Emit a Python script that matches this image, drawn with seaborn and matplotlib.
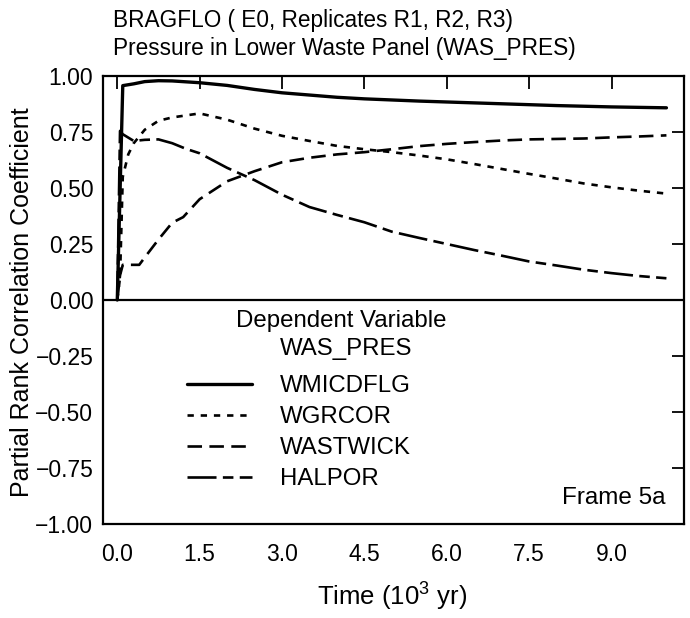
import numpy as np
import pandas as pd
import matplotlib
matplotlib.use("Agg")
import matplotlib.pyplot as plt
import seaborn as sns
from matplotlib.lines import Line2D

# ---- data ----
t_wmic = [0.0, 0.1, 0.3, 0.5, 0.75, 1.0, 1.5, 2.0, 2.5, 3.0, 3.5, 4.0, 4.5, 5.0,
          5.5, 6.0, 6.5, 7.0, 7.5, 8.0, 8.5, 9.0, 9.5, 10.0]
wmicdflg = [0.0, 0.957, 0.965, 0.975, 0.979, 0.978, 0.970, 0.958, 0.940, 0.925,
            0.915, 0.905, 0.898, 0.893, 0.888, 0.884, 0.880, 0.876, 0.872, 0.868,
            0.865, 0.862, 0.860, 0.858]

t_wgr = [0.0, 0.05, 0.1, 0.2, 0.3, 0.5, 0.75, 1.0, 1.5, 2.0, 2.5, 3.0, 3.5, 4.0,
         4.5, 5.0, 5.5, 6.0, 6.5, 7.0, 7.5, 8.0, 8.5, 9.0, 9.5, 10.0]
wgrcor = [0.0, 0.10, 0.55, 0.65, 0.70, 0.76, 0.80, 0.815, 0.833, 0.805, 0.765,
          0.733, 0.71, 0.688, 0.673, 0.66, 0.645, 0.628, 0.607, 0.585, 0.563,
          0.542, 0.52, 0.503, 0.488, 0.475]

t_wast = [0.0, 0.05, 0.1, 0.4, 0.5, 0.75, 1.0, 1.2, 1.5, 2.0, 2.5, 3.0, 3.5, 4.0,
          4.5, 5.0, 5.5, 6.0, 6.5, 7.0, 7.5, 8.0, 8.5, 9.0, 9.5, 10.0]
wastwick = [0.0, 0.11, 0.157, 0.157, 0.19, 0.27, 0.345, 0.37, 0.45, 0.53, 0.575,
            0.615, 0.635, 0.65, 0.66, 0.673, 0.687, 0.697, 0.705, 0.712, 0.717,
            0.719, 0.721, 0.726, 0.730, 0.735]

t_hal = [0.0, 0.05, 0.1, 0.3, 0.5, 0.75, 1.0, 1.25, 1.5, 2.0, 2.5, 3.0, 3.5, 4.0,
         4.5, 5.0, 5.5, 6.0, 6.5, 7.0, 7.5, 8.0, 8.5, 9.0, 9.5, 10.0]
halpor = [0.0, 0.755, 0.74, 0.71, 0.715, 0.717, 0.70, 0.675, 0.655, 0.59, 0.535,
          0.47, 0.415, 0.38, 0.347, 0.305, 0.277, 0.25, 0.223, 0.198, 0.172,
          0.154, 0.135, 0.12, 0.107, 0.097]

labels = ["WMICDFLG", "WGRCOR", "WASTWICK", "HALPOR"]
xticks = [0.0, 1.5, 3.0, 4.5, 6.0, 7.5, 9.0]
yticks = [1.00, 0.75, 0.50, 0.25, 0.00, -0.25, -0.50, -0.75, -1.00]

df = pd.concat([
    pd.DataFrame({"time": t_wmic, "prcc": wmicdflg, "var": labels[0]}),
    pd.DataFrame({"time": t_wgr, "prcc": wgrcor, "var": labels[1]}),
    pd.DataFrame({"time": t_wast, "prcc": wastwick, "var": labels[2]}),
    pd.DataFrame({"time": t_hal, "prcc": halpor, "var": labels[3]}),
], ignore_index=True)

styles = {
    "WMICDFLG": dict(linestyle="-", lw=2.4),
    "WGRCOR": dict(linestyle=(0, (2.4, 2.6)), lw=1.9),
    "WASTWICK": dict(linestyle=(0, (5.5, 2.8)), lw=1.9),
    "HALPOR": dict(linestyle=(0, (11.0, 2.4, 4.0, 2.4)), lw=1.9),
}

sns.set_theme(style="white")
plt.rcParams['font.family'] = ['Liberation Sans', 'DejaVu Sans']
plt.rcParams['mathtext.fontset'] = 'custom'
plt.rcParams['mathtext.rm'] = 'Liberation Sans'
plt.rcParams['text.color'] = 'black'
plt.rcParams['xtick.color'] = 'black'
plt.rcParams['ytick.color'] = 'black'
plt.rcParams['axes.labelcolor'] = 'black'

W, H = 690, 618
fig = plt.figure(figsize=(6.9, 6.18), dpi=100)
ax = fig.add_axes([103 / W, 1 - 524 / H, (684 - 103) / W, (524 - 76) / H])

for name in labels:
    sub = df[df["var"] == name]
    sns.lineplot(data=sub, x="time", y="prcc", ax=ax, color="black",
                 estimator=None, sort=False, legend=False, **styles[name])

ax.axhline(0, color="black", lw=1.6)
ax.set_xlim(-0.26, 10.32)
ax.set_ylim(-1.0, 1.0)
ax.set_xticks(xticks)
ax.set_xticklabels([f"{v:.1f}" for v in xticks])
ax.set_yticks(yticks)
ax.set_yticklabels([f"{v:.2f}".replace("-", "\u2212") for v in yticks])
ax.tick_params(direction="in", length=9, width=1.3, top=True, right=True,
               labelsize=16.5, colors="black")
ax.tick_params(axis="x", pad=14)
ax.tick_params(axis="y", pad=7)
for s in ax.spines.values():
    s.set_color("black")
    s.set_linewidth(1.6)
ax.set_xlabel("")
ax.set_ylabel("")

fig.text(113 / W, 1 - 21 / H, "BRAGFLO ( E0, Replicates R1, R2, R3)", fontsize=16.3,
         ha="left", va="center")
fig.text(113 / W, 1 - 48 / H, "Pressure in Lower Waste Panel (WAS_PRES)", fontsize=16.3,
         ha="left", va="center")
fig.text(392 / W, 1 - 596 / H, "Time (10$^3$ yr)", fontsize=18.5, ha="center", va="center")
fig.text(22 / W, 1 - 302 / H, "Partial Rank Correlation Coefficient", fontsize=18,
         rotation=90, ha="center", va="center")

fs = 17.3
fig.text(341 / W, 1 - 321 / H, "Dependent Variable", fontsize=fs, ha="center", va="center")
fig.text(346 / W, 1 - 349 / H, "WAS_PRES", fontsize=fs, ha="center", va="center")

handles = [Line2D([], [], color="black", **styles[n]) for n in labels]
ax.legend(handles, labels, loc="upper left", bbox_to_anchor=(187 / W, 1 - 375 / H),
          bbox_transform=fig.transFigure, frameon=False, fontsize=fs,
          handlelength=2.7, handletextpad=1.15, labelspacing=0.38,
          borderpad=0, borderaxespad=0)

fig.text(665 / W, 1 - 498 / H, "Frame 5a", fontsize=17.5, ha="right", va="center")

fig.savefig("out.png", dpi=100, facecolor="white")
